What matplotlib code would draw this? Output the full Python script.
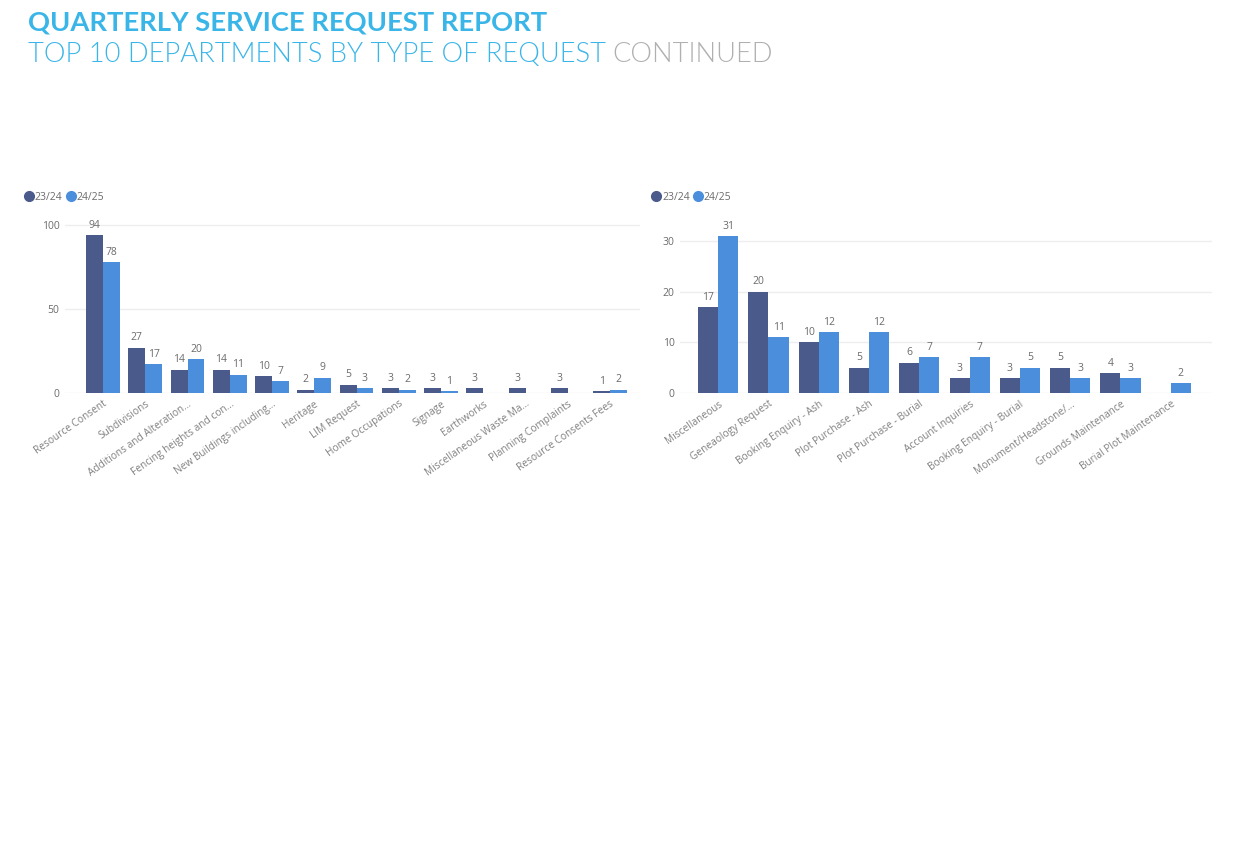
#Quarterly service request report - top departments by type of request
import matplotlib.pyplot as plt
import numpy as np
from matplotlib.lines import Line2D

# left chart: planning / building requests
left_cats = ["Resource Consent", "Subdivisions", "Additions and Alteration...",
             "Fencing heights and con...", "New Buildings including...", "Heritage",
             "LIM Request", "Home Occupations", "Signage", "Earthworks",
             "Miscellaneous Waste Ma...", "Planning Complaints", "Resource Consents Fees"]
left_2324 = [94, 27, 14, 14, 10, 2, 5, 3, 3, 3, 3, 3, 1]
left_2425 = [78, 17, 20, 11, 7, 9, 3, 2, 1, None, None, None, 2]

# right chart: cemetery requests
right_cats = ["Miscellaneous", "Geneaology Request", "Booking Enquiry - Ash",
              "Plot Purchase - Ash", "Plot Purchase - Burial", "Account Inquiries",
              "Booking Enquiry - Burial", "Monument/Headstone/...", "Grounds Maintenance",
              "Burial Plot Maintenance"]
right_2324 = [17, 20, 10, 5, 6, 3, 3, 5, 4, None]
right_2425 = [31, 11, 12, 12, 7, 7, 5, 3, 3, 2]

series_names = ["23/24", "24/25"]

DARK = "#4A5A8B"
LIGHT = "#4A8EDC"
TXT = "#6b6b6b"
GRID = "#eeeeee"

plt.rcParams['font.family'] = ['Open Sans', 'DejaVu Sans']

fig = plt.figure(figsize=(12.5, 8.63), dpi=100)

fig.text(0.022, 0.9735, "QUARTERLY SERVICE REQUEST REPORT", family=['Lato', 'DejaVu Sans'],
         fontsize=19.7, fontweight='bold', color="#3AB5E8", va='center', ha='left')
t1 = fig.text(0.022, 0.9365, "TOP 10 DEPARTMENTS BY TYPE OF REQUEST ", family=['Lato', 'DejaVu Sans'],
              fontsize=19.6, fontweight=300, color="#3AB5E8", va='center', ha='left')
fig.canvas.draw()
bb = t1.get_window_extent().transformed(fig.transFigure.inverted())
fig.text(bb.x1, 0.9365, "CONTINUED", family=['Lato', 'DejaVu Sans'],
         fontsize=19.6, fontweight=300, color="#b0b0b0", va='center', ha='left')


def bar_chart(ax, cats, a, b, ymax, yticks, xlim):
    x = np.arange(len(cats))
    w = 0.4
    for vals, off, col in [(a, -w / 2, DARK), (b, w / 2, LIGHT)]:
        for xi, v in zip(x, vals):
            if v is None:
                continue
            ax.bar(xi + off, v, w, color=col, zorder=3)
            ax.text(xi + off, v + ymax * 0.025, str(v), ha='center', va='bottom',
                    fontsize=7.5, color=TXT)
    ax.set_ylim(0, ymax)
    ax.set_xlim(*xlim)
    ax.set_yticks(yticks)
    ax.set_yticklabels([str(t) for t in yticks], fontsize=7.5, color=TXT)
    ax.grid(axis='y', color=GRID, linewidth=1, zorder=0)
    ax.set_xticks(x)
    ax.set_xticklabels(cats, rotation=35, ha='right', rotation_mode='anchor',
                       fontsize=7.3, color="#808080")
    ax.tick_params(length=0, pad=4)
    for s in ax.spines.values():
        s.set_visible(False)


axL = fig.add_axes([0.052, 0.5446, 0.46, 0.205])
bar_chart(axL, left_cats, left_2324, left_2425, 105.4, [0, 50, 100], (-0.9, 12.71))

axR = fig.add_axes([0.544, 0.5446, 0.4256, 0.194])
bar_chart(axR, right_cats, right_2324, right_2425, 33, [0, 10, 20, 30], (-0.76, 9.82))

handles = [Line2D([], [], marker='o', linestyle='', markersize=7, color=DARK),
           Line2D([], [], marker='o', linestyle='', markersize=7, color=LIGHT)]
for xpos in [0.019, 0.521]:
    fig.legend(handles, series_names, loc='center left', bbox_to_anchor=(xpos, 0.771),
               ncol=2, frameon=False, fontsize=7.5, labelcolor=TXT, handletextpad=0.05,
               columnspacing=0.3, handlelength=1.0, borderaxespad=0, borderpad=0)

plt.savefig('out.png', dpi=100)
